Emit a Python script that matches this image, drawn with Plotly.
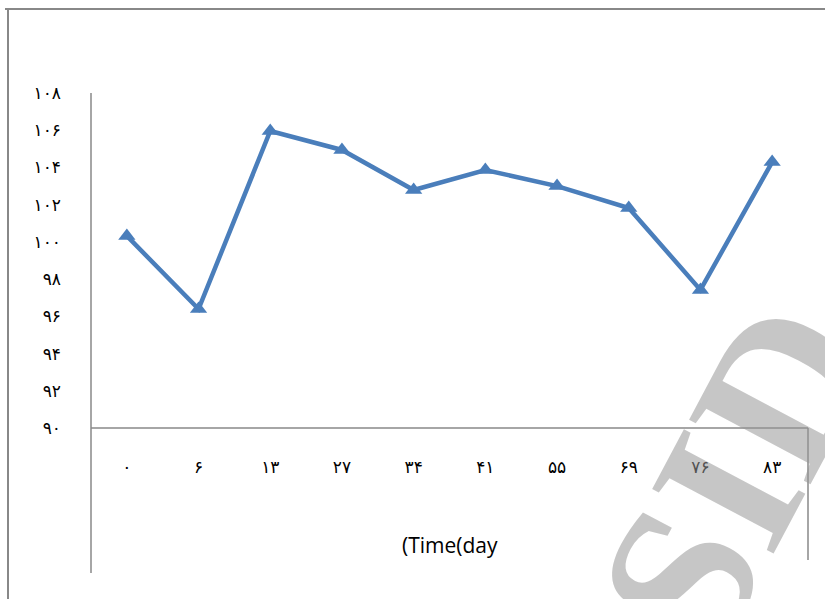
import plotly.graph_objects as go

categories = ["۰", "۶", "۱۳", "۲۷", "۳۴", "۴۱", "۵۵", "۶۹", "۷۶", "۸۳"]
values = [100.32, 96.39, 105.96, 104.94, 102.79, 103.86, 103.0, 101.82, 97.42, 104.29]
y_tickvals = [90, 92, 94, 96, 98, 100, 102, 104, 106, 108]
y_ticktext = ["۹۰", "۹۲", "۹۴", "۹۶", "۹۸", "۱۰۰", "۱۰۲", "۱۰۴", "۱۰۶", "۱۰۸"]
x_title = "(Time(day"
watermark = "SID"

W, H = 825, 599
def px(x):
    return x / W
def py(y):
    return 1 - y / H

x0, x1 = 91, 808
ytop, ybot = 93, 428
grey = "#888888"

fig = go.Figure()
fig.add_trace(go.Scatter(
    x=list(range(len(categories))), y=values, mode="lines+markers",
    line=dict(color="#4a7ebb", width=4.5),
    marker=dict(symbol="triangle-up", size=15, color="#4a7ebb"),
    showlegend=False, cliponaxis=False, hoverinfo="skip",
))

fig.update_layout(
    width=W, height=H,
    margin=dict(l=0, r=0, t=0, b=0, pad=0, autoexpand=False),
    paper_bgcolor="white", plot_bgcolor="white",
    xaxis=dict(
        domain=[px(x0), px(x1)], range=[-0.5, len(categories) - 0.5],
        tickvals=list(range(len(categories))), ticktext=categories,
        showgrid=False, zeroline=False, showline=False, ticks="",
        ticklabelstandoff=27, automargin=False,
        tickfont=dict(family="DejaVu Sans", size=17, color="black"),
    ),
    yaxis=dict(
        domain=[py(ybot), py(ytop)], range=[90, 108],
        tickvals=y_tickvals, ticktext=y_ticktext,
        showgrid=False, zeroline=False, showline=False, ticks="",
        ticklabelstandoff=29, automargin=False,
        tickfont=dict(family="DejaVu Sans", size=17, color="black"),
    ),
    shapes=[
        dict(type="line", xref="paper", yref="paper", x0=px(5), x1=px(825), y0=py(9), y1=py(9),
             line=dict(color=grey, width=2)),
        dict(type="line", xref="paper", yref="paper", x0=px(8), x1=px(8), y0=py(9), y1=py(599),
             line=dict(color=grey, width=2)),
        dict(type="line", xref="paper", yref="paper", x0=px(x0), x1=px(x0), y0=py(ytop), y1=py(573),
             line=dict(color=grey, width=1.5)),
        dict(type="line", xref="paper", yref="paper", x0=px(x0), x1=px(x1), y0=py(ybot), y1=py(ybot),
             line=dict(color=grey, width=1.5)),
        dict(type="line", xref="paper", yref="paper", x0=px(x1), x1=px(x1), y0=py(ybot), y1=py(560),
             line=dict(color=grey, width=1.5)),
    ],
    annotations=[
        dict(text=x_title, xref="paper", yref="paper", x=px(450), y=py(545),
             showarrow=False, font=dict(family="Open Sans", size=21, color="black"),
             xanchor="center", yanchor="middle"),
        dict(text="<b>" + watermark + "</b>", xref="paper", yref="paper", x=px(735), y=py(475),
             showarrow=False, textangle=-62,
             font=dict(family="Liberation Serif", size=210, color="rgba(150,150,150,0.54)"),
             xanchor="center", yanchor="middle"),
    ],
)

post = (
    "document.body.style.margin='0';"
    "document.body.style.overflow='hidden';"
)

fig.write_html("out.html", config={"displayModeBar": False}, post_script=post)
